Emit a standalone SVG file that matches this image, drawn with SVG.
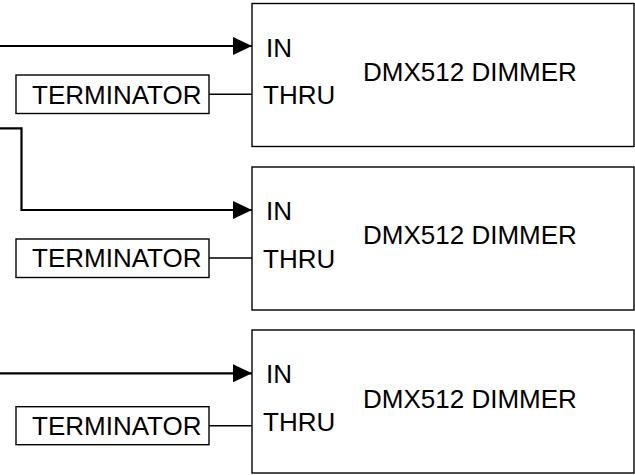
<svg xmlns="http://www.w3.org/2000/svg" width="635" height="475" viewBox="0 0 635 475">
<defs>
<style>
.box{fill:#fff;stroke:#000;stroke-width:1.4}
.wire{fill:none;stroke:#000;stroke-width:2.2}
.thin{fill:none;stroke:#000;stroke-width:1.4}
text{font-family:"Liberation Sans",Arial,sans-serif;font-size:26px;fill:#000}
</style>
<marker id="ah" viewBox="0 0 19 18" refX="19" refY="9" markerWidth="19" markerHeight="18" markerUnits="userSpaceOnUse" orient="auto">
<path d="M0,0 L19,9 L0,18 Z" fill="#000"/>
</marker>
</defs>
<rect width="635" height="475" fill="#fff"/>
<g id="dimmer1">
<rect class="box" x="252" y="3.5" width="382" height="143"/>
<text x="266" y="56.5">IN</text>
<text x="263" y="104">THRU</text>
<text x="363" y="80.5">DMX512 DIMMER</text>
</g>
<g id="dimmer2">
<rect class="box" x="252" y="167" width="382" height="143"/>
<text x="266" y="220">IN</text>
<text x="263" y="267.5">THRU</text>
<text x="363" y="243.5">DMX512 DIMMER</text>
</g>
<g id="dimmer3">
<rect class="box" x="252" y="330" width="382" height="143"/>
<text x="266" y="383.3">IN</text>
<text x="263" y="431">THRU</text>
<text x="363" y="407.5">DMX512 DIMMER</text>
</g>
<g id="terminator1">
<rect class="box" x="16" y="75" width="193" height="38.5"/>
<text x="32" y="103.5">TERMINATOR</text>
</g>
<g id="terminator2">
<rect class="box" x="16" y="239" width="193" height="38.5"/>
<text x="32" y="267.3">TERMINATOR</text>
</g>
<g id="terminator3">
<rect class="box" x="16" y="406.7" width="193" height="38"/>
<text x="32" y="435">TERMINATOR</text>
</g>
<g id="connectors">
<path class="wire" d="M0,46 H252" marker-end="url(#ah)"/>
<path class="wire" d="M0,128.3 H21.5 V210 H252" marker-end="url(#ah)"/>
<path class="wire" d="M0,373.3 H252" marker-end="url(#ah)"/>
<path class="thin" d="M209,94.3 H252"/>
<path class="thin" d="M209,258 H252"/>
<path class="thin" d="M209,425.8 H252"/>
</g>
</svg>
